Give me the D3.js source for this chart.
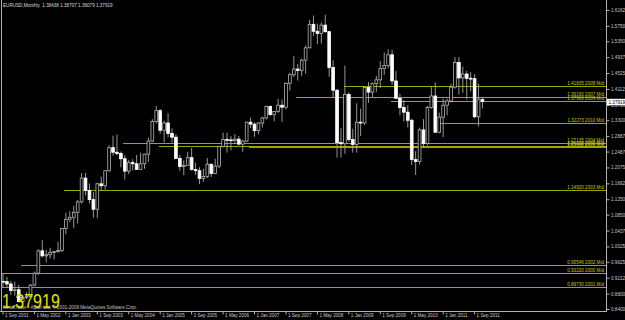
<!DOCTYPE html>
<html lang="en">
  <head>
    <meta charset="UTF-8" />
    <title>EURUSD,Monthly</title>
    <script src="https://cdn.jsdelivr.net/npm/d3@7"></script>
    <style>
      body {
        margin: 0;
        background-color: #000000;
        font-family: "Liberation Sans", Arial, sans-serif;
      }
      svg {
        display: block;
      }
    </style>
  </head>
  <body>
    <div id="my_dataviz"></div>
    <script>
      // monthly bars, Sep 2001 .. Nov 2011
      var months = d3.timeMonth
        .range(new Date(2001, 8, 1), new Date(2011, 11, 1))
        .map(d3.timeFormat("%Y-%m"));

      var open = [
        0.9118, 0.9110, 0.9050, 0.8880,
        0.8900, 0.8590, 0.8700, 0.8720, 0.9020, 0.9330, 0.9910, 0.9780, 0.9810, 0.9865, 0.9890, 0.9920,
        1.0490, 1.0730, 1.0780, 1.0910, 1.1180, 1.1800, 1.1480, 1.1240, 1.0990, 1.1650, 1.1600, 1.1990,
        1.2590, 1.2470, 1.2440, 1.2300, 1.1980, 1.2200, 1.2170, 1.2020, 1.2170, 1.2420, 1.2760, 1.3270,
        1.3550, 1.3040, 1.3230, 1.2960, 1.2860, 1.2310, 1.2100, 1.2130, 1.2330, 1.2020, 1.1990, 1.1790,
        1.1840, 1.2160, 1.1920, 1.2110, 1.2620, 1.2800, 1.2790, 1.2770, 1.2810, 1.2680, 1.2760, 1.3250,
        1.3200, 1.3030, 1.3230, 1.3360, 1.3660, 1.3450, 1.3530, 1.3690, 1.3640, 1.4260, 1.4480, 1.4630,
        1.4590, 1.4860, 1.5180, 1.5790, 1.5610, 1.5550, 1.5770, 1.5600, 1.4670, 1.4080, 1.2720, 1.2690,
        1.3970, 1.2800, 1.2670, 1.3250, 1.3230, 1.4150, 1.4030, 1.4250, 1.4350, 1.4640, 1.4720, 1.5000,
        1.4320, 1.3870, 1.3630, 1.3510, 1.3300, 1.2280, 1.2230, 1.3050, 1.2700, 1.3630, 1.3930, 1.2990,
        1.3380, 1.3690, 1.3800, 1.4160, 1.4800, 1.4400, 1.4500, 1.4390, 1.4380, 1.3390, 1.38438
      ];
      var high = [
        0.9330, 0.9235, 0.9130, 0.9110,
        0.9030, 0.8765, 0.8835, 0.9050, 0.9370, 0.9950, 1.0190, 0.9930, 0.9990, 0.9910, 1.0150, 1.0500,
        1.0900, 1.0940, 1.1080, 1.1230, 1.1930, 1.1930, 1.1660, 1.1440, 1.1680, 1.1840, 1.2010, 1.2650,
        1.2900, 1.2930, 1.2490, 1.2390, 1.2270, 1.2290, 1.2400, 1.2460, 1.2430, 1.2850, 1.3330, 1.3670,
        1.3590, 1.3290, 1.3480, 1.3090, 1.2940, 1.2400, 1.2260, 1.2480, 1.2580, 1.2200, 1.2080, 1.2040,
        1.2320, 1.2160, 1.2300, 1.2640, 1.2980, 1.2980, 1.2890, 1.2940, 1.2890, 1.2790, 1.3260, 1.3370,
        1.3240, 1.3250, 1.3390, 1.3680, 1.3680, 1.3540, 1.3850, 1.3840, 1.4280, 1.4530, 1.4970, 1.4760,
        1.4900, 1.5240, 1.5910, 1.6020, 1.5810, 1.5840, 1.6040, 1.5620, 1.4860, 1.4110, 1.3090, 1.4720,
        1.4030, 1.3080, 1.3740, 1.3600, 1.4160, 1.4290, 1.4280, 1.4450, 1.4840, 1.5060, 1.5140, 1.5130,
        1.4580, 1.3990, 1.3820, 1.3690, 1.3340, 1.2500, 1.3110, 1.3330, 1.3670, 1.4160, 1.4280, 1.3500,
        1.3860, 1.3860, 1.4250, 1.4940, 1.4940, 1.4700, 1.4580, 1.4550, 1.4500, 1.4250, 1.38707
      ];
      var low = [
        0.8965, 0.8945, 0.8760, 0.8750,
        0.8575, 0.8565, 0.8660, 0.8700, 0.8990, 0.9280, 0.9740, 0.9610, 0.9710, 0.9690, 0.9860, 0.9880,
        1.0340, 1.0650, 1.0500, 1.0620, 1.1140, 1.1350, 1.1140, 1.0770, 1.0760, 1.1480, 1.1500, 1.1960,
        1.2380, 1.2390, 1.2080, 1.1760, 1.1900, 1.2000, 1.2020, 1.2010, 1.2040, 1.2220, 1.2730, 1.3220,
        1.2950, 1.2720, 1.2860, 1.2720, 1.2290, 1.1990, 1.1870, 1.2130, 1.1990, 1.1880, 1.1640, 1.1700,
        1.1800, 1.1830, 1.1900, 1.2060, 1.2590, 1.2460, 1.2520, 1.2690, 1.2650, 1.2480, 1.2730, 1.3100,
        1.2870, 1.2930, 1.3110, 1.3320, 1.3410, 1.3270, 1.3490, 1.3260, 1.3580, 1.4070, 1.4420, 1.4330,
        1.4450, 1.4510, 1.5170, 1.5490, 1.5280, 1.5290, 1.5570, 1.4430, 1.3880, 1.2330, 1.2330, 1.2430,
        1.2740, 1.2460, 1.2460, 1.2890, 1.3180, 1.3750, 1.3880, 1.4040, 1.4140, 1.4480, 1.4650, 1.4220,
        1.3860, 1.3430, 1.3270, 1.3110, 1.2140, 1.1880, 1.2150, 1.2590, 1.2650, 1.3600, 1.2970, 1.2960,
        1.2860, 1.3430, 1.3760, 1.4120, 1.3970, 1.4010, 1.3840, 1.4050, 1.3360, 1.3140, 1.36079
      ];
      var close = [
        0.9110, 0.9050, 0.8880, 0.8900,
        0.8590, 0.8700, 0.8720, 0.9020, 0.9330, 0.9910, 0.9780, 0.9810, 0.9865, 0.9890, 0.9920, 1.0490,
        1.0730, 1.0780, 1.0910, 1.1180, 1.1800, 1.1480, 1.1240, 1.0990, 1.1650, 1.1600, 1.1990, 1.2590,
        1.2470, 1.2440, 1.2300, 1.1980, 1.2200, 1.2170, 1.2020, 1.2170, 1.2420, 1.2760, 1.3270, 1.3550,
        1.3040, 1.3230, 1.2960, 1.2860, 1.2310, 1.2100, 1.2130, 1.2330, 1.2020, 1.1990, 1.1790, 1.1840,
        1.2160, 1.1920, 1.2110, 1.2620, 1.2800, 1.2790, 1.2770, 1.2810, 1.2680, 1.2760, 1.3250, 1.3200,
        1.3030, 1.3230, 1.3360, 1.3660, 1.3450, 1.3530, 1.3690, 1.3640, 1.4260, 1.4480, 1.4630, 1.4590,
        1.4860, 1.5180, 1.5790, 1.5610, 1.5550, 1.5770, 1.5600, 1.4670, 1.4080, 1.2720, 1.2690, 1.3970,
        1.2800, 1.2670, 1.3250, 1.3230, 1.4150, 1.4030, 1.4250, 1.4350, 1.4640, 1.4720, 1.5000, 1.4320,
        1.3870, 1.3630, 1.3510, 1.3300, 1.2280, 1.2230, 1.3050, 1.2700, 1.3630, 1.3930, 1.2990, 1.3380,
        1.3690, 1.3800, 1.4160, 1.4800, 1.4400, 1.4500, 1.4390, 1.4380, 1.3390, 1.3850, 1.37919
      ];

      // yearly mid levels (horizontal lines)
      var midYears = ["2000", "2001", "2002", "2003", "2004", "2005", "2006", "2007", "2008", "2009", "2010"];
      var midValues = [0.93220, 0.89730, 0.95546, 1.14920, 1.27135, 1.26215, 1.25960, 1.39160, 1.41835, 1.37988, 1.32273];
      var midFrom = ["2001-09", "2001-09", "2002-02", "2003-01", "2004-04", "2005-01", "2006-12", "2007-12", "2008-12", "2009-12", "2010-12"];

      // axis ticks
      var yTicks = [1.61625, 1.575, 1.535, 1.49375, 1.4525, 1.41125, 1.37, 1.33, 1.28875, 1.24875,
        1.2075, 1.16625, 1.125, 1.085, 1.04375, 1.0025, 0.9625, 0.92125, 0.88, 0.84];
      var xTicks = ["2001-09", "2002-05", "2003-01", "2003-09", "2004-05", "2005-01", "2005-09", "2006-05",
        "2007-01", "2007-09", "2008-05", "2009-01", "2009-09", "2010-05", "2011-01", "2011-09"];
      var xTickLabels = ["1 Sep 2001", "1 May 2002", "1 Jan 2003", "1 Sep 2003", "1 May 2004", "1 Jan 2005",
        "1 Sep 2005", "1 May 2006", "1 Jan 2007", "1 Sep 2007", "1 May 2008", "1 Jan 2009", "1 Sep 2009",
        "1 May 2010", "1 Jan 2011", "1 Sep 2011"];

      var title = "EURUSD,Monthly  1.38438 1.38707 1.36079 1.37919";
      var lastPrice = 1.37919;

      var width = 625, height = 320;
      var plotRight = 606.5, plotBottom = 311.5;
      var small = "4.6px";

      var svg = d3
        .select("#my_dataviz")
        .append("svg")
        .attr("width", width)
        .attr("height", height)
        .style("background", "#000000");

      var x = d3
        .scaleBand()
        .domain(months)
        .range([1.03, 1.03 + months.length * 3.93])
        .paddingInner(0.3)
        .paddingOuter(0.15);

      var y = d3.scaleLinear().domain([0.84, 1.61625]).range([309, 10]);

      var bars = months.map(function (m, i) {
        return { m: m, o: open[i], h: high[i], l: low[i], c: close[i] };
      });

      // yearly mid lines + labels
      var mids = midYears.map(function (yr, i) {
        return { yr: yr, v: midValues[i], from: midFrom[i] };
      });
      svg
        .selectAll("line.mid")
        .data(mids)
        .enter()
        .append("line")
        .attr("class", "mid")
        .attr("x1", function (d) { return x(d.from); })
        .attr("x2", plotRight)
        .attr("y1", function (d) { return Math.round(y(d.v)) + 0.5; })
        .attr("y2", function (d) { return Math.round(y(d.v)) + 0.5; })
        .attr("stroke", "#a4a400")
        .attr("stroke-width", 1)
        .attr("shape-rendering", "crispEdges");

      svg
        .selectAll("text.mid")
        .data(mids)
        .enter()
        .append("text")
        .attr("class", "mid")
        .attr("x", 604)
        .attr("y", function (d) { return Math.round(y(d.v)) - 1.3; })
        .attr("text-anchor", "end")
        .style("font-size", small)
        .attr("fill", "#c8c800")
        .text(function (d) { return d.v.toFixed(5) + " " + d.yr + " Mid"; });

      // candles: wicks then bodies
      var cx = function (d) { return x(d.m) + x.bandwidth() / 2; };
      svg
        .selectAll("line.wick")
        .data(bars)
        .enter()
        .append("line")
        .attr("class", "wick")
        .attr("x1", cx)
        .attr("x2", cx)
        .attr("y1", function (d) { return y(d.h); })
        .attr("y2", function (d) { return y(d.l); })
        .attr("stroke", "#a8a8a8")
        .attr("stroke-width", 0.9);

      svg
        .selectAll("rect.body")
        .data(bars)
        .enter()
        .append("rect")
        .attr("class", "body")
        .attr("x", function (d) { return x(d.m); })
        .attr("width", x.bandwidth())
        .attr("y", function (d) { return y(Math.max(d.o, d.c)); })
        .attr("height", function (d) { return Math.max(0.8, Math.abs(y(d.o) - y(d.c))); })
        .attr("fill", function (d) { return d.c >= d.o ? "#000000" : "#ffffff"; })
        .attr("stroke", function (d) { return d.c >= d.o ? "#b4b4b4" : "#ffffff"; })
        .attr("stroke-width", 0.8);

      // frame lines
      svg.append("line")
        .attr("x1", 1.5).attr("x2", 1.5).attr("y1", 0).attr("y2", plotBottom)
        .attr("stroke", "#b0b0b0").attr("shape-rendering", "crispEdges");
      svg.append("line")
        .attr("x1", plotRight).attr("x2", plotRight).attr("y1", 0).attr("y2", plotBottom)
        .attr("stroke", "#b0b0b0").attr("shape-rendering", "crispEdges");
      svg.append("line")
        .attr("x1", 0).attr("x2", plotRight).attr("y1", plotBottom).attr("y2", plotBottom)
        .attr("stroke", "#b0b0b0").attr("shape-rendering", "crispEdges");

      // right price axis
      var yAxis = svg
        .append("g")
        .attr("transform", "translate(" + plotRight + ",0)")
        .call(d3.axisRight(y).tickValues(yTicks).tickSize(3).tickPadding(1.5).tickFormat(d3.format(".5f")));
      yAxis.select(".domain").remove();
      yAxis.selectAll("line").attr("stroke", "#b0b0b0");
      yAxis.selectAll("text").attr("fill", "#c8c8c8").style("font-size", small).attr("font-family", "Liberation Sans, Arial, sans-serif");

      // bottom time axis
      var xAxis = svg
        .append("g")
        .attr("transform", "translate(0," + plotBottom + ")")
        .call(d3.axisBottom(x).tickValues(xTicks).tickSize(3).tickFormat(function (d, i) { return xTickLabels[i]; }));
      xAxis.select(".domain").remove();
      xAxis.selectAll("line").attr("stroke", "#b0b0b0");
      xAxis
        .selectAll("text")
        .attr("fill", "#c8c8c8")
        .attr("text-anchor", "start")
        .attr("x", 2)
        .attr("y", 2)
        .style("font-size", small)
        .attr("font-family", "Liberation Sans, Arial, sans-serif");

      // current price marker on the axis
      svg.append("rect")
        .attr("x", plotRight + 0.5)
        .attr("y", y(lastPrice) - 2.5)
        .attr("width", width - plotRight)
        .attr("height", 6.5)
        .attr("fill", "#ffffff");
      svg.append("text")
        .attr("x", plotRight + 2)
        .attr("y", y(lastPrice) + 2.8)
        .style("font-size", small)
        .attr("fill", "#000000")
        .text(lastPrice.toFixed(5));

      // header and footer texts
      svg.append("text")
        .attr("x", 3)
        .attr("y", 7)
        .style("font-size", small)
        .attr("fill", "#d8d8d8")
        .attr("xml:space", "preserve")
        .text(title);

      svg.append("text")
        .attr("x", 3)
        .attr("y", 308.5)
        .style("font-size", small)
        .attr("fill", "#c0c0c0")
        .text("MetaTrader - Alpari Ltd, \u00a9 2001-2009 MetaQuotes Software Corp.");

      svg.append("text")
        .attr("transform", "translate(2,308) scale(0.82,1)")
        .style("font-size", "19.5px")
        .attr("fill", "#e2e200")
        .text(lastPrice.toFixed(5));
    </script>
  </body>
</html>
